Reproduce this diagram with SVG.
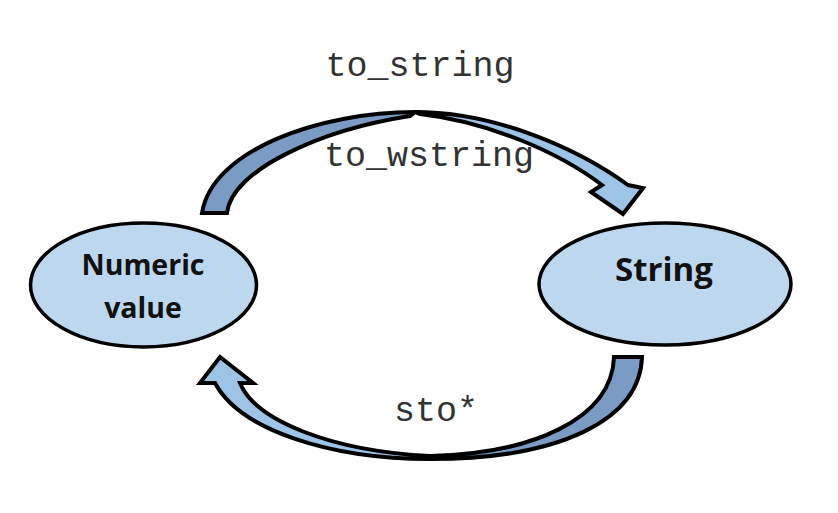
<svg xmlns="http://www.w3.org/2000/svg" width="838" height="513" viewBox="0 0 838 513">
  <defs>
    <style>
      .node { fill: #BDD7EE; stroke: #000; stroke-width: 3.5; }
      .label { font-family: "Open Sans", "Liberation Sans", sans-serif; font-weight: bold; fill: #111; text-anchor: middle; }
      .code { font-family: "Liberation Mono", "Courier New", monospace; font-size: 35px; fill: #333; text-anchor: middle; }
      .back { fill: #7A9CC4; stroke: #000; stroke-width: 4; stroke-linejoin: miter; }
      .front { fill: #9DC3E6; stroke: #000; stroke-width: 4; stroke-linejoin: miter; }
    </style>
  </defs>
  <rect width="838" height="513" fill="#fff"/>

  <g id="connectors">
    <g id="arrow-to-string">
      <path class="back" d="M202,213 C212,150 320,112 415,112 L410,116 C320,130 232,170 227,213 Z"/>
      <path class="front" d="M415,112 C495,112 577,148 628,185 L643,188 L623,214 L591,192 L602,185 C560,153 490,122 420,114 Z"/>
    </g>
    <g id="arrow-sto">
      <path class="back" d="M642,357 C640,420 560,459 430,459 L430,456 C530,454 612,420 614,357 Z"/>
      <path class="front" d="M430,459 C330,459 240,430 215,383 L200,383 L220,357 L253,383 L240,383 C255,420 330,451 430,456 Z"/>
    </g>
    <text class="code" x="420" y="76">to_string</text>
    <text class="code" x="429" y="166">to_wstring</text>
    <text class="code" x="436" y="421">sto*</text>
  </g>

  <g id="node-numeric">
    <ellipse class="node" cx="143.5" cy="285" rx="113" ry="62"/>
    <text class="label" x="143" y="275" font-size="28.5">Numeric</text>
    <text class="label" x="143" y="318" font-size="28.5">value</text>
  </g>

  <g id="node-string">
    <ellipse class="node" cx="665" cy="284" rx="126" ry="61"/>
    <text class="label" x="664" y="281" font-size="33">String</text>
  </g>
</svg>
